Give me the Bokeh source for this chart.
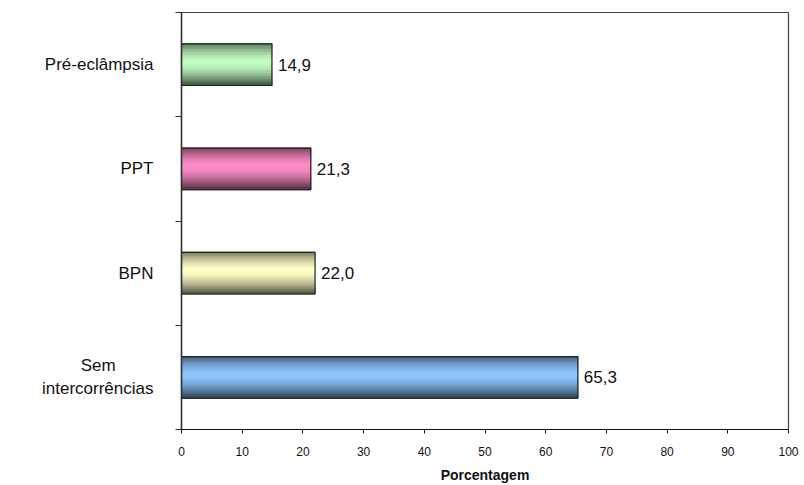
from bokeh.plotting import figure
from bokeh.models import ColumnDataSource, FixedTicker, Range1d
from bokeh.core.properties import value
from bokeh.embed import file_html
from bokeh.resources import INLINE

# Complications, listed bottom to top
categories = ["Sem\u00a0\u00a0\u00a0\u00a0\u00a0\u00a0\u00a0\u00a0\nintercorrências", "BPN", "PPT", "Pré-eclâmpsia"]
percentages = [65.3, 22.0, 21.3, 14.9]
bar_colors = ["#8ec6ff", "#ffffc8", "#ff8ec8", "#c4ffc4"]
x_ticks = [0, 10, 20, 30, 40, 50, 60, 70, 80, 90, 100]

FONT = "Liberation Sans"
BAR_H = 0.40
STRIPS = 28


def shade(hex_color, f):
    r, g, b = (int(hex_color[i:i + 2], 16) for i in (1, 3, 5))
    return "#%02x%02x%02x" % (int(r * f), int(g * f), int(b * f))


def profile(t):
    # cylinder-like shading: darker at the top and bottom edges
    d = t - 0.45
    if d < 0:
        return 1.0 - 0.55 * (abs(d) / 0.45) ** 1.6
    return 1.0 - 0.68 * (d / 0.55) ** 1.6


centers = [i + 0.5 for i in range(len(categories))]

# gradient strips for each bar
ys, rights, hs, cols = [], [], [], []
step = BAR_H / STRIPS
for c, v, col in zip(centers, percentages, bar_colors):
    for k in range(STRIPS):
        t = (k + 0.5) / STRIPS
        ys.append(c + BAR_H / 2 - (k + 0.5) * step)
        rights.append(v)
        hs.append(step * 1.08)
        cols.append(shade(col, profile(t)))
strips = ColumnDataSource(dict(y=ys, right=rights, h=hs, color=cols))

bars = ColumnDataSource(dict(
    y=centers,
    right=percentages,
    label=[f"{v:.1f}".replace(".", ",") for v in percentages],
))

p = figure(
    width=804, height=485,
    x_range=Range1d(0, 100), y_range=Range1d(0, len(categories)),
    output_backend="svg", toolbar_location=None,
    min_border_left=181, min_border_right=16,
    min_border_top=12, min_border_bottom=55,
)
p.grid.visible = False
p.outline_line_color = "#444444"
p.outline_line_width = 1.2
p.background_fill_color = "white"
p.border_fill_color = "white"

p.hbar(y="y", left=0, right="right", height="h", color="color", source=strips)
p.hbar(y="y", left=0, right="right", height=BAR_H, fill_color=None,
       line_color="#222222", line_width=1.2, source=bars)
p.text(x="right", y="y", text="label", source=bars, x_offset=6,
       text_baseline="middle", text_align="left",
       text_font=value(FONT), text_font_size="17px", text_color="#111111")

# x axis
xa = p.xaxis[0]
xa.ticker = FixedTicker(ticks=x_ticks)
xa.minor_tick_line_color = None
xa.major_tick_in = 0
xa.major_tick_out = 4
xa.axis_line_color = "#111111"
xa.major_tick_line_color = "#111111"
xa.major_label_text_font = FONT
xa.major_label_text_font_size = "12px"
xa.major_label_text_color = "#111111"
xa.major_label_standoff = 13
xa.axis_label = "Porcentagem"
xa.axis_label_text_font = FONT
xa.axis_label_text_font_style = "bold"
xa.axis_label_text_font_size = "14px"
xa.axis_label_text_color = "#111111"
xa.axis_label_standoff = 8

# y axis: labels at category centres, ticks on category boundaries
ya = p.yaxis[0]
ya.ticker = FixedTicker(ticks=centers,
                        minor_ticks=list(range(len(categories) + 1)))
ya.major_label_overrides = {c: lab for c, lab in zip(centers, categories)}
ya.major_tick_line_color = None
ya.major_tick_in = 0
ya.major_tick_out = 0
ya.minor_tick_in = 0
ya.minor_tick_out = 6
ya.minor_tick_line_color = "#333333"
ya.axis_line_color = "#333333"
ya.axis_line_width = 1.5
ya.major_label_text_font = FONT
ya.major_label_text_font_size = "17px"
ya.major_label_text_color = "#111111"
ya.major_label_standoff = 22

open("out.html", "w").write(file_html(p, INLINE))
